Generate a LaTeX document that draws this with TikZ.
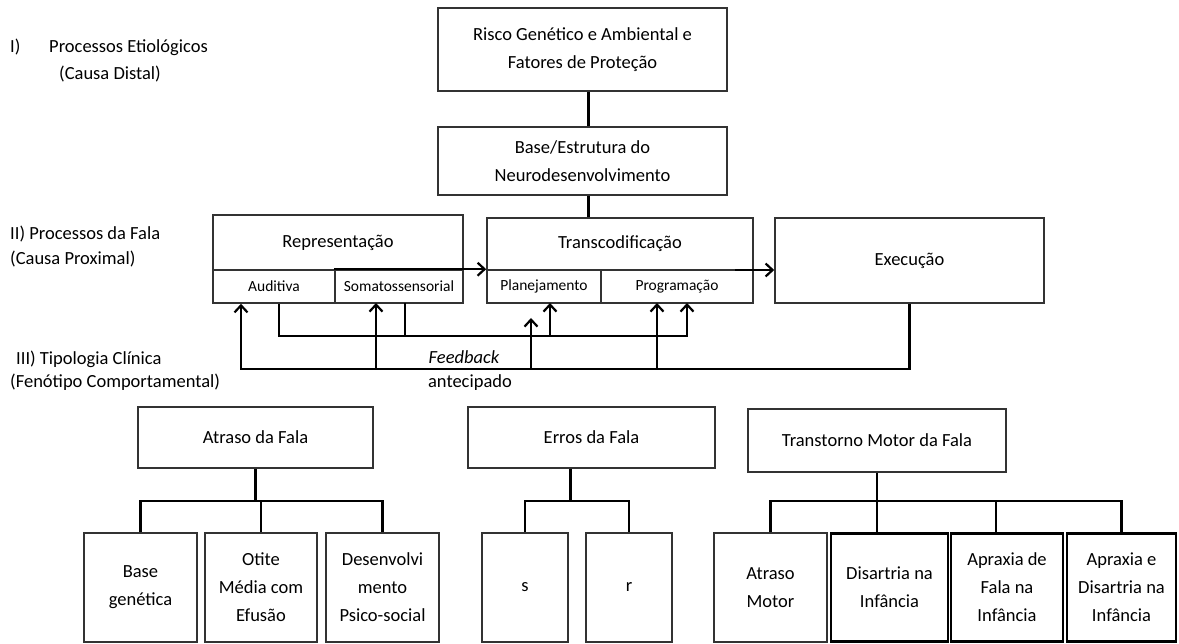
\documentclass[tikz,border=0pt]{standalone}
\usepackage{fontspec}
\setmainfont{Carlito}
\usetikzlibrary{arrows.meta, positioning}

\begin{document}
\begin{tikzpicture}[
            x = 1pt, y = -1pt, % one unit per pixel, y downwards
            > = {Straight Barb[length=7pt, width=13pt]}, % open arrow head
            font = \fontsize{18.5}{28}\selectfont
        ]

        \tikzstyle{caixa}=[
            draw = black!80,
            line width = 1.6pt,
            align = center,
            inner sep = 0pt
        ]
        \tikzstyle{sub}=[caixa, font = \fontsize{15.5}{18}\selectfont]
        \tikzstyle{grossa}=[caixa, draw = black, line width = 2.6pt]
        \tikzstyle{liga}=[draw = black, line width = 2.2pt]
        \tikzstyle{rotulo}=[anchor = mid west, inner sep = 0pt]

        \useasboundingbox (0,0) rectangle (1179,644);

	% niveis
	\node[rotulo] (n1) at (10,50) {I)};
	\node[rotulo] (n1a) at (49,50) {Processos Etiológicos};
	\node[rotulo] (n1b) at (59,77) {(Causa Distal)};
	\node[rotulo] (n2a) at (10,237) {II) Processos da Fala};
	\node[rotulo] (n2b) at (10,262) {(Causa Proximal)};
	\node[rotulo] (n3a) at (16,362) {III) Tipologia Clínica};
	\node[rotulo] (n3b) at (10,385) {(Fenótipo Comportamental)};

	% causa distal
	\node[caixa, minimum width=289, minimum height=83] (risco) at (582.5,49.5) {Risco Genético e Ambiental e\\Fatores de Proteção};
	\node[caixa, minimum width=289, minimum height=68] (base) at (582.5,161) {Base/Estrutura do\\Neurodesenvolvimento};

	% processos da fala
	\node[caixa, minimum width=250, minimum height=55] (rep) at (338,242.5) {Representação};
	\node[sub, minimum width=122, minimum height=33] (aud) at (274,286.5) {Auditiva};
	\node[sub, minimum width=128, minimum height=33] (som) at (399,286.5) {Somatossensorial};
	\node[caixa, minimum width=266, minimum height=52] (trans) at (620,244) {Transcodificação};
	\node[sub, minimum width=114, minimum height=33] (plan) at (544,286.5) {Planejamento};
	\node[sub, minimum width=152, minimum height=33] (prog) at (677,286.5) {Programação};
	\node[caixa, minimum width=269, minimum height=85] (exec) at (909.5,260.5) {Execução};

	\node (fb) at (464,357) {\itshape Feedback};
	\node (ant) at (470,383) {antecipado};

	% tipologia clinica
	\node[caixa, minimum width=235, minimum height=61] (atraso) at (255.5,437.5) {Atraso da Fala};
	\node[caixa, minimum width=247, minimum height=61] (erros) at (591.5,437.5) {Erros da Fala};
	\node[caixa, minimum width=258, minimum height=63] (motor) at (877,440.5) {Transtorno Motor da Fala};

	\node[caixa, minimum width=113, minimum height=109] (gen) at (140.5,587.5) {Base\\genética};
	\node[caixa, minimum width=112, minimum height=109] (otite) at (261,587.5) {Otite\\Média com\\Efusão};
	\node[caixa, minimum width=113, minimum height=109] (psico) at (382.5,587.5) {Desenvolvi\\mento\\Psico-social};
	\node[caixa, minimum width=86, minimum height=109] (s) at (525,587.5) {s};
	\node[caixa, minimum width=86, minimum height=109] (r) at (629,587.5) {r};
	\node[caixa, minimum width=113, minimum height=109] (amot) at (770.5,587.5) {Atraso\\Motor};
	\node[grossa, minimum width=117, minimum height=108] (dis) at (889.5,587.5) {Disartria na\\Infância};
	\node[grossa, minimum width=112, minimum height=108] (apf) at (1007,587.5) {Apraxia de\\Fala na\\Infância};
	\node[grossa, minimum width=109, minimum height=108] (apd) at (1121.5,587.5) {Apraxia e\\Disartria na\\Infância};

	% ligacoes de cima
	\draw[liga] ([xshift=6pt]risco.south) -- ([xshift=6pt]base.north);
	\draw[liga] ([xshift=6pt]base.south) -- ([xshift=6pt]base.south |- trans.north);
	\draw[liga, ->] (som.north west) -- (plan.north west);
	\coordinate (tsai) at (735,270);
	\draw[liga, ->] (tsai) -- (exec.west |- tsai);

	% feedback
	\coordinate (ret) at (241,369);
	\coordinate (int) at (279,336);
	\coordinate (s1) at (376,303);
	\coordinate (s2) at (405,303);
	\coordinate (p1) at (550,303);
	\coordinate (p2) at (687,303);
	\coordinate (t1) at (531,318);
	\coordinate (t2) at (657,303);
	\draw[liga, ->] (exec.south) |- (ret) -- (ret |- aud.south);
	\draw[liga, ->] (s1 |- ret) -- (s1);
	\draw[liga, ->] (t1 |- ret) -- (t1);
	\draw[liga, ->] (t2 |- ret) -- (t2);
	\draw[liga, ->] (int |- aud.south) -- (int) -| (p2);
	\draw[liga] (s2) -- (s2 |- int);
	\draw[liga, ->] (p1 |- int) -- (p1);

	% arvores
	\draw[liga] (atraso.south) -- ++(0,32) -| (gen.north);
	\draw[liga] (atraso.south) -- ++(0,32) -| (otite.north);
	\draw[liga] (atraso.south) -- ++(0,32) -| (psico.north);
	\draw[liga] ([xshift=-21pt]erros.south) -- ++(0,32) -| (s.north);
	\draw[liga] ([xshift=-21pt]erros.south) -- ++(0,32) -| (r.north);
	\draw[liga] (motor.south) -- ++(0,28) -| (amot.north);
	\draw[liga] (motor.south) -- (motor.south |- dis.north);
	\draw[liga] (motor.south) -- ++(0,28) -| ([xshift=-11pt]apf.north);
	\draw[liga] (motor.south) -- ++(0,28) -| (apd.north);

    \end{tikzpicture}
\end{document}
